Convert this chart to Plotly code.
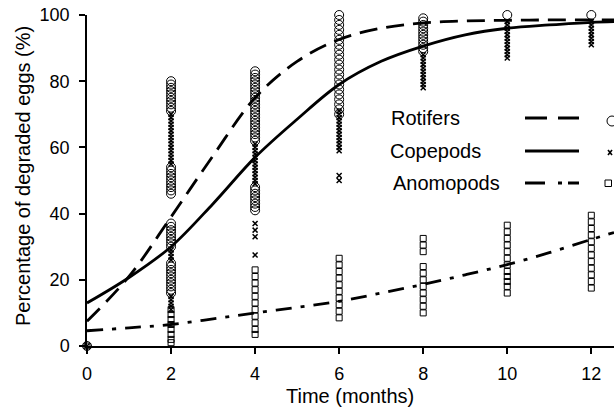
import plotly.graph_objects as go

# ---------------- data ----------------
rot_t = [0] + [2]*10 + [2]*9 + [2]*8 + [2]*10 + [4]*22 + [4]*8 + [6]*21 + [8]*11 + [10, 12]
rot_v = ([0] +
         [80, 79, 78, 77, 76, 75, 74, 73, 72, 71] +
         [54, 53, 52, 51, 50, 49, 48, 47, 46] +
         [37, 36, 35, 34, 33, 32, 31, 30] +
         [25, 24, 23, 22, 21, 20, 19, 18, 17, 16] +
         [83, 82, 81, 80, 79, 78, 77, 76, 75, 74, 73, 72, 71, 70, 69, 68, 67, 66, 65, 64, 63, 62] +
         [48, 47, 46, 45, 44, 43, 42, 41] +
         [100, 98.5, 97, 95.5, 94, 92.5, 91, 89.5, 88, 86.5, 85, 83.5, 82, 80.5, 79, 77.5, 76, 74.5, 73, 71.5, 70] +
         [99, 98, 97, 96, 95, 94, 93, 92, 91, 90, 89] +
         [100, 100])

cop_t = [0] + [2]*16 + [2]*4 + [2]*5 + [4]*13 + [4]*4 + [6]*13 + [6]*2 + [8]*11 + [10]*12 + [12]*8
cop_v = ([0] +
         [70, 69, 68, 67, 66, 65, 64, 63, 62, 61, 60, 59, 58, 57, 56, 55] +
         [29, 28, 27, 26] +
         [15, 14, 13, 12, 11] +
         [61, 60, 59, 58, 57, 56, 55, 54, 53, 52, 51, 50, 49] +
         [37, 35, 33, 27.5] +
         [71, 70, 69, 68, 67, 66, 65, 64, 63, 62, 61, 60, 59] +
         [51.5, 50] +
         [88, 87, 86, 85, 84, 83, 82, 81, 80, 79, 78] +
         [98, 97, 96, 95, 94, 93, 92, 91, 90, 89, 88, 87] +
         [98, 97, 96, 95, 94, 93, 92, 91])

ano_t = [0] + [2]*8 + [4]*11 + [6]*10 + [8]*11 + [10]*12 + [12]*12
ano_v = ([0] +
         [11, 9.5, 8, 6.5, 5, 3.5, 2, 1] +
         [23, 21, 19, 17, 15, 13, 11, 9, 7, 5, 3.5] +
         [26.5, 24.5, 22.5, 20.5, 18.5, 16.5, 14.5, 12.5, 10.5, 8.5] +
         [32.5, 30.5, 28.5, 24, 22, 20, 18, 16, 14, 12, 10] +
         [36.5, 34.5, 32.5, 30.5, 28.5, 26.5, 24.5, 22.5, 21, 19.5, 18, 16] +
         [39.5, 37.5, 35.5, 33.5, 31.5, 29.5, 27.5, 25.5, 23.5, 21.5, 19.5, 17.5])

# fitted curves
curve_t = [0, 1, 2, 3, 4, 5, 6, 7, 8, 9, 10, 11, 12, 12.54]
rot_fit = [7.5, 21, 39, 57.5, 75, 86, 92.6, 96, 97.6, 98.2, 98.4, 98.5, 98.5, 98.5]
cop_fit = [13, 20.7, 30, 43, 57, 68.5, 79, 86, 90.6, 94, 96, 97, 97.8, 98]
ano_fit = [4.6, 5.5, 6.5, 8.2, 10, 11.7, 13.5, 16, 18.6, 21.5, 24.6, 28.2, 32.2, 34.3]

series_names = ["Rotifers", "Copepods", "Anomopods"]
x_ticks = [0, 2, 4, 6, 8, 10, 12]
y_ticks = [0, 20, 40, 60, 80, 100]

# ---------------- figure ----------------
W, H = 614, 412
L, R, T, B = 87, 0, 15, 66
FONT = "Liberation Sans, Arial, sans-serif"

fig = go.Figure()

fig.add_trace(go.Scatter(x=ano_t, y=ano_v, mode="markers", cliponaxis=False,
                         marker=dict(symbol="square-open", size=6, color="black",
                                     line=dict(width=1, color="black")),
                         showlegend=False))
fig.add_trace(go.Scatter(x=cop_t, y=cop_v, mode="markers", cliponaxis=False,
                         marker=dict(symbol="x-thin", size=5, color="black",
                                     line=dict(width=1.5, color="black")),
                         showlegend=False))
fig.add_trace(go.Scatter(x=rot_t, y=rot_v, mode="markers", cliponaxis=False,
                         marker=dict(symbol="circle-open", size=9, color="black",
                                     line=dict(width=1, color="black")),
                         showlegend=False))

fig.add_trace(go.Scatter(x=curve_t, y=rot_fit, mode="lines", line_shape="spline",
                         line=dict(color="black", width=2.8, dash="18px,9px"),
                         showlegend=False))
fig.add_trace(go.Scatter(x=curve_t, y=cop_fit, mode="lines", line_shape="spline",
                         line=dict(color="black", width=2.8),
                         showlegend=False))
fig.add_trace(go.Scatter(x=curve_t, y=ano_fit, mode="lines", line_shape="spline",
                         line=dict(color="black", width=2.8, dash="16px,9px,4px,9px"),
                         showlegend=False))

pw = W - L - R
ph = H - T - B


def px(xp):
    return (xp - L) / pw


def py(yp):
    return (H - B - yp) / ph


annotations = []
shapes = []

# legend (manual, like the original)
leg_y = [118, 151, 183]
leg_text_x = [389, 388, 391]
dashes = ["22px,11px", "solid", "20px,13px,4px,6px"]
for name, yy, tx, d in zip(series_names, leg_y, leg_text_x, dashes):
    annotations.append(dict(x=px(tx), y=py(yy), xref="paper", yref="paper", text=name,
                            showarrow=False, xanchor="left", yanchor="middle",
                            font=dict(size=20, color="black", family=FONT)))
    shapes.append(dict(type="line", xref="paper", yref="paper",
                       x0=px(525), x1=px(579), y0=py(yy), y1=py(yy),
                       line=dict(color="black", width=2.8, dash=d)))

# legend markers
shapes.append(dict(type="circle", xref="paper", yref="paper",
                   x0=px(607), x1=px(617), y0=py(126), y1=py(116),
                   line=dict(color="black", width=1)))
shapes.append(dict(type="line", xref="paper", yref="paper",
                   x0=px(608), x1=px(612), y0=py(150), y1=py(155),
                   line=dict(color="black", width=1.6)))
shapes.append(dict(type="line", xref="paper", yref="paper",
                   x0=px(608), x1=px(612), y0=py(155), y1=py(150),
                   line=dict(color="black", width=1.6)))
shapes.append(dict(type="rect", xref="paper", yref="paper",
                   x0=px(605), x1=px(611.5), y0=py(186.5), y1=py(180),
                   line=dict(color="black", width=1)))

# axis titles
annotations.append(dict(x=px(350), y=py(396), xref="paper", yref="paper",
                        text="Time (months)", showarrow=False,
                        xanchor="center", yanchor="middle",
                        font=dict(size=20, color="black", family=FONT)))
annotations.append(dict(x=px(23), y=py(176), xref="paper", yref="paper",
                        text="Percentage of degraded eggs (%)", showarrow=False,
                        textangle=-90, xanchor="center", yanchor="middle",
                        font=dict(size=20, color="black", family=FONT)))

fig.update_layout(
    width=W, height=H,
    margin=dict(l=L, r=R, t=T, b=B),
    paper_bgcolor="white", plot_bgcolor="white",
    font=dict(family=FONT, color="black", size=17),
    annotations=annotations, shapes=shapes,
    showlegend=False,
)
fig.update_xaxes(range=[0, 12.54], tickvals=x_ticks, ticktext=[str(v) for v in x_ticks],
                 showline=True, linecolor="black", linewidth=1.5, showgrid=False,
                 zeroline=False, ticks="outside", ticklen=6, tickwidth=1.5,
                 tickcolor="black", tickfont=dict(size=18), ticklabelstandoff=5)
fig.update_yaxes(range=[0, 100], tickvals=y_ticks, ticktext=[str(v) for v in y_ticks],
                 showline=True, linecolor="black", linewidth=1.5, showgrid=False,
                 zeroline=False, ticks="outside", ticklen=6, tickwidth=1.5,
                 tickcolor="black", tickfont=dict(size=18), ticklabelstandoff=6)

fig.write_html("out.html",
               config={"displayModeBar": False},
               post_script="document.body.style.margin='0px';"
                           "document.body.style.overflow='hidden';")
